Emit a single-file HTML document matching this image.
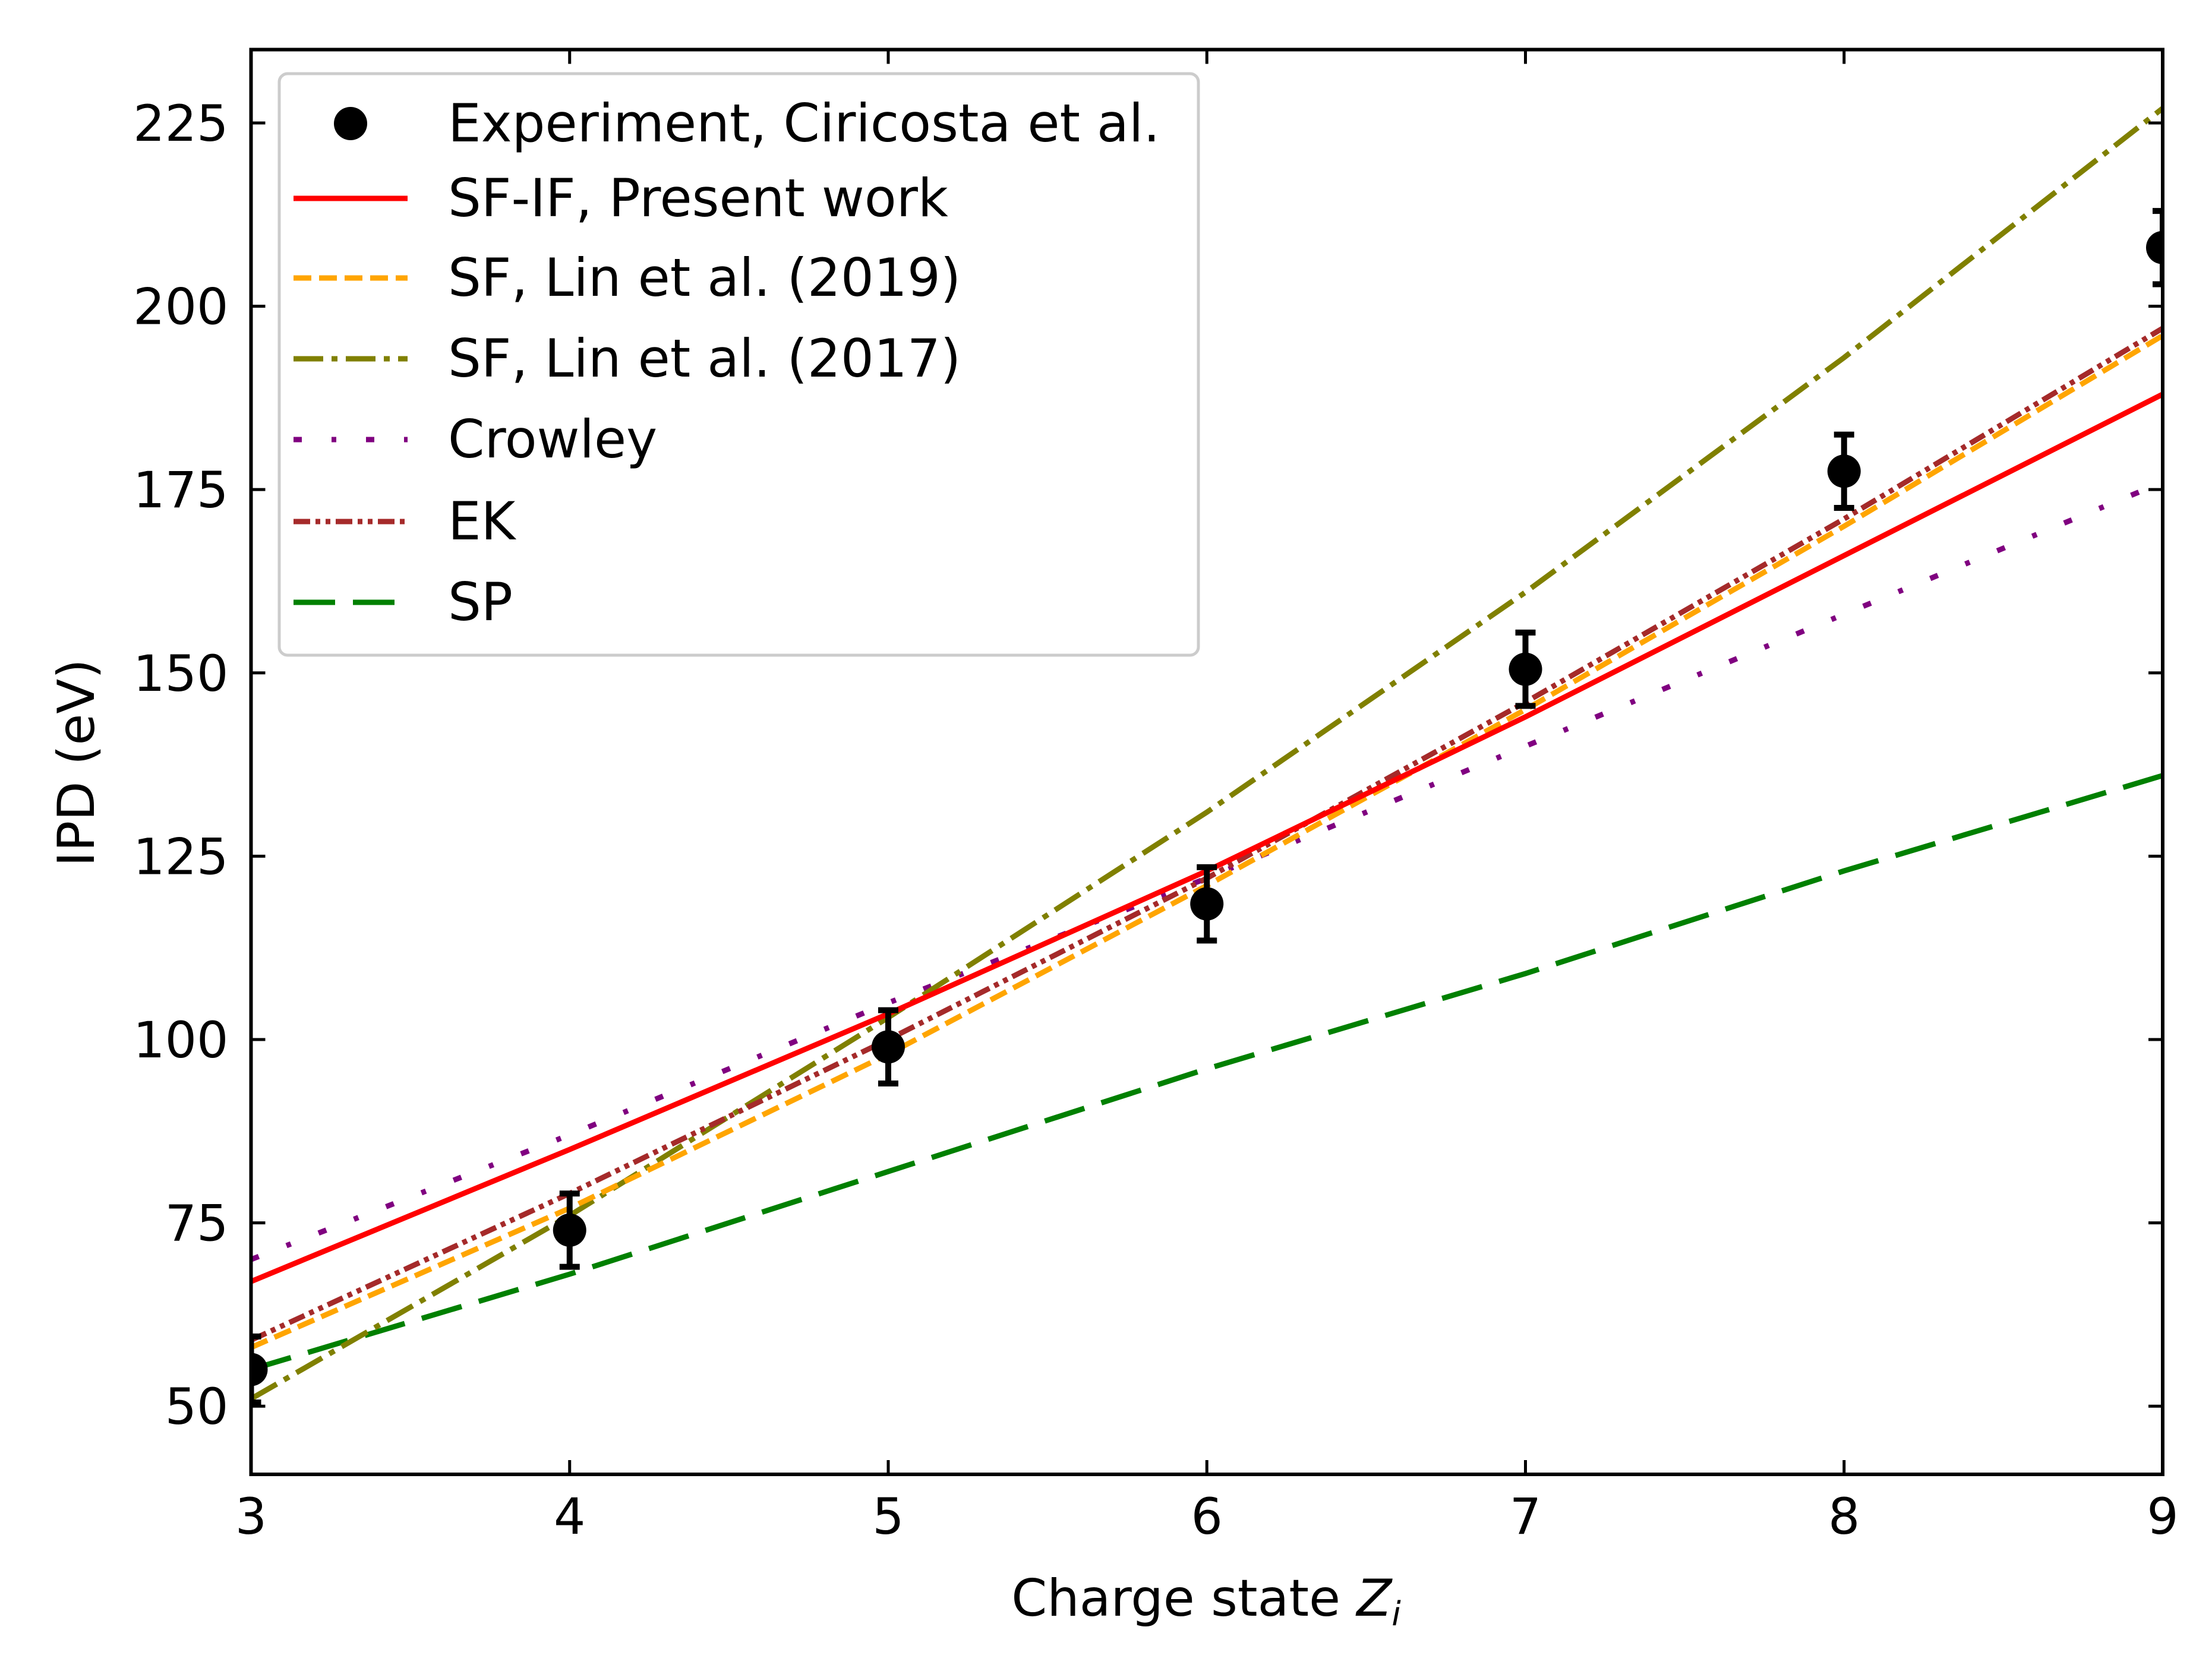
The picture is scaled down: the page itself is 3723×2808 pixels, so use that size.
<!DOCTYPE html>
<html><head><meta charset="utf-8"><style>
html,body{margin:0;padding:0;background:#fff}
svg{display:block}
text{font-family:"DejaVu Sans","Liberation Sans",sans-serif;fill:#000}
</style></head><body>
<svg id="chart" width="3723" height="2808" viewBox="0 0 3723 2808" xmlns="http://www.w3.org/2000/svg">
<g id="plot"></g>
</svg>
<script>
const xCats = [3,4,5,6,7,8,9];
const xTicks = [3,4,5,6,7,8,9];
const yTicks = [50,75,100,125,150,175,200,225];
const expY = [55,74,99,118.5,150.5,177.5,208];
const expErr = [4.5,5,5,5,5,5,5];
const sfif = [67,85,103.5,123,144,166,188];
const sf2019 = [58,77,98,121,145,170,196];
const sf2017 = [51,76,103,131,161,193,227];
const crowley = [70,87,105,122,140,158,176];
const ek = [59,79,100,122,146,171,197];
const sp = [55,68,82,96,109,123,136];

const L=422.5,R=3640,T=83.5,B=2482;
const XMIN=3,XMAX=9,YMIN=40.7,YMAX=235;
const xs=v=>L+(v-XMIN)/(XMAX-XMIN)*(R-L);
const ys=v=>B-(v-YMIN)/(YMAX-YMIN)*(B-T);
const NS='http://www.w3.org/2000/svg';
const g=document.getElementById('plot');
function mk(tag,attrs,parent){const e=document.createElementNS(NS,tag);for(const k in attrs)e.setAttribute(k,attrs[k]);(parent||g).appendChild(e);return e;}

const clip=mk('clipPath',{id:'clp'});
mk('rect',{x:L,y:T,width:R-L,height:B-T},clip);

const LW=9;
const series=[
 {name:'sp-line',vals:sp,color:'#008000',dash:'70,30'},
 {name:'crowley-line',vals:crowley,color:'#800080',dash:'14,50,8,50'},
 {name:'sf2017-line',vals:sf2017,color:'#808000',dash:'50,14,10,14'},
 {name:'sf2019-line',vals:sf2019,color:'#FFA500',dash:'30,13'},
 {name:'ek-line',vals:ek,color:'#A52A2A',dash:'28,9,8,9,8,9'},
 {name:'sfif-line',vals:sfif,color:'#FF0000',dash:'none'}
];
series.forEach(s=>{
  const p=mk('polyline',{points:xCats.map((x,i)=>xs(x)+','+ys(s.vals[i])).join(' '),fill:'none',stroke:s.color,'stroke-width':LW,'stroke-dasharray':s.dash,'clip-path':'url(#clp)'});
  
  
});
xCats.forEach((x,i)=>{
  const cx=xs(x),cy=ys(expY[i]),t=ys(expY[i]+expErr[i]),b=ys(expY[i]-expErr[i]);
  const eg=mk('g',{'clip-path':'url(#clp)'});
  
  
  mk('line',{x1:cx,y1:t,x2:cx,y2:b,stroke:'#000','stroke-width':10},eg);
  mk('line',{x1:cx-17,y1:t,x2:cx+17,y2:t,stroke:'#000','stroke-width':10},eg);
  mk('line',{x1:cx-17,y1:b,x2:cx+17,y2:b,stroke:'#000','stroke-width':10},eg);
  mk('circle',{cx:cx,cy:cy,r:28,fill:'#000'},eg);
});

const fr=mk('rect',{x:L,y:T,width:R-L,height:B-T,fill:'none',stroke:'#000','stroke-width':6});


xTicks.forEach(v=>{
  const x=xs(v);
  mk('line',{x1:x,y1:B,x2:x,y2:B-24,stroke:'#000','stroke-width':5});
  mk('line',{x1:x,y1:T,x2:x,y2:T+24,stroke:'#000','stroke-width':5});
  const t=mk('text',{x:x,y:B+100,'font-size':84,'text-anchor':'middle'});
  t.textContent=v;
  
  
});
yTicks.forEach(v=>{
  const y=ys(v);
  mk('line',{x1:L,y1:y,x2:L+24,y2:y,stroke:'#000','stroke-width':5});
  mk('line',{x1:R,y1:y,x2:R-24,y2:y,stroke:'#000','stroke-width':5});
  const t=mk('text',{x:L-38,y:y+30,'font-size':84,'text-anchor':'end'});
  t.textContent=v;
  
  
});
const xl=mk('text',{x:2030,y:2720,'font-size':86,'text-anchor':'middle'});
xl.innerHTML='Charge state <tspan font-style="italic">Z</tspan><tspan font-style="italic" font-size="56" dy="16">i</tspan>';


const yl=mk('text',{x:0,y:0,'font-size':86,'text-anchor':'middle',transform:'translate(158,1284) rotate(-90)'});
yl.textContent='IPD (eV)';



const lg=mk('g',{});


mk('rect',{x:470,y:124,width:1547,height:979,rx:14,fill:'#fff',stroke:'#cccccc','stroke-width':5,'fill-opacity':0.85},lg);
const entries=[
 {label:'Experiment, Ciricosta et al.',marker:true},
 {label:'SF-IF, Present work',color:'#FF0000',dash:'none'},
 {label:'SF, Lin et al. (2019)',color:'#FFA500',dash:'30,13'},
 {label:'SF, Lin et al. (2017)',color:'#808000',dash:'50,14,10,14'},
 {label:'Crowley',color:'#800080',dash:'14,50,8,50'},
 {label:'EK',color:'#A52A2A',dash:'28,9,8,9,8,9'},
 {label:'SP',color:'#008000',dash:'70,30'}
];
const ly=[208,334,468,604,740,878,1014];
entries.forEach((e,i)=>{
  const eg=mk('g',{},lg);
  
  
  if(e.marker) mk('circle',{cx:590,cy:ly[i],r:28,fill:'#000'},eg);
  else mk('line',{x1:494,y1:ly[i],x2:686,y2:ly[i],stroke:e.color,'stroke-width':LW,'stroke-dasharray':e.dash},eg);
  const t=mk('text',{x:754,y:ly[i]+30,'font-size':88},eg);
  t.textContent=e.label;
});
</script>
</body></html>
